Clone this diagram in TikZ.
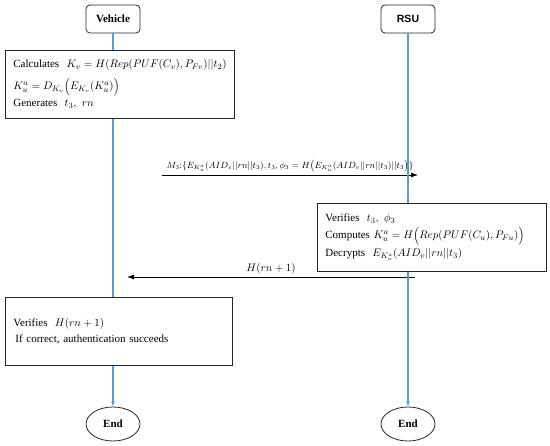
\documentclass[tikz,border=0pt]{standalone}
\usepackage{fontspec}
\setmainfont{Liberation Serif}
\setsansfont{Liberation Sans}
\usetikzlibrary{shapes.geometric,arrows.meta}

\definecolor{lifeblue}{RGB}{91,155,213}
\newcommand{\boxfont}{\fontsize{11}{17}\selectfont}
\tikzset{
  actor/.style={draw=black!85,thick,rounded corners=4pt,minimum width=54pt,minimum height=28pt,font=\bfseries\fontsize{11}{13}\selectfont},
  procbox/.style={draw=black!85,thick,anchor=north west,text width=213pt,inner xsep=8pt,minimum height=68pt,align=left,font=\boxfont},
  life/.style={draw=lifeblue,line width=1.2pt},
  lifeend/.style={life,-{Latex[length=5pt,width=4pt]}},
  endnode/.style={ellipse,draw=black!85,thick,minimum width=54pt,minimum height=34pt,inner sep=0pt,font=\bfseries\fontsize{11}{13}\selectfont},
  msg/.style={thick,-{Latex[length=7pt,width=5pt]}}
}

\begin{document}
\begin{tikzpicture}[x=1pt,y=-1pt]
\useasboundingbox (0,0) rectangle (550,446);

% actors
\node[actor] (veh) at (113,19) {Vehicle};
\node[actor,font=\sffamily\bfseries\fontsize{10.5}{13}\selectfont] (rsu) at (408,19) {RSU};

% vehicle side, first step
\node[procbox] (calc) at (5,50) {\mbox{Calculates\ \ $K_v=H(Rep(PUF(C_v),P_{Fv})||t_2)$}\\[5pt]
  $K_u^a=D_{K_v}\Big(E_{K_v}(K_u^a)\Big)$\\[0pt]
  Generates\ \ $t_3,\ rn$};

% message M3
\coordinate (m3s) at (162,175);
\coordinate (m3e) at (418,175);
\draw[msg] (m3s) -- (m3e) node[midway,above,inner sep=2pt,font=\small]
  {$M_3$:$\{E_{K_u^a}(AID_v||rn||t_3),t_3,\phi_3=H\big(E_{K_u^a}(AID_v||rn||t_3)||t_3\big)\}$};

% RSU side
\node[procbox] (verify) at (317,203) {Verifies\ \ $t_3,\ \phi_3$\\[0pt]
  \mbox{Computes\ $K_u^a=H\Big(Rep(PUF(C_u),P_{Fu})\Big)$}\\[1pt]
  Decrypts\ \ $E_{K_u^a}(AID_v||rn||t_3)$\\[2pt]};

% reply
\coordinate (rps) at (415,277);
\coordinate (rpe) at (127,277);
\draw[msg] (rps) -- (rpe) node[midway,above,inner sep=2pt,font=\boxfont] {$H(rn+1)$};

% vehicle side, last step
\node[procbox,text width=211pt] (check) at (5,297) {Verifies\ \ $H(rn+1)$\\[-1pt]
  \hspace{2pt}If correct, authentication succeeds};

% ends
\node[endnode] (vend) at (113,424) {End};
\node[endnode] (rend) at (408,424) {End};

% lifelines
\draw[life] (veh.south) -- (veh.south |- calc.north);
\draw[life] (calc.south -| veh) -- (check.north -| veh);
\draw[lifeend] (check.south -| veh) -- (vend.north);
\draw[life] (rsu.south) -- (rsu.south |- verify.north);
\draw[lifeend] (verify.south -| rsu) -- (rend.north);
\end{tikzpicture}
\end{document}
